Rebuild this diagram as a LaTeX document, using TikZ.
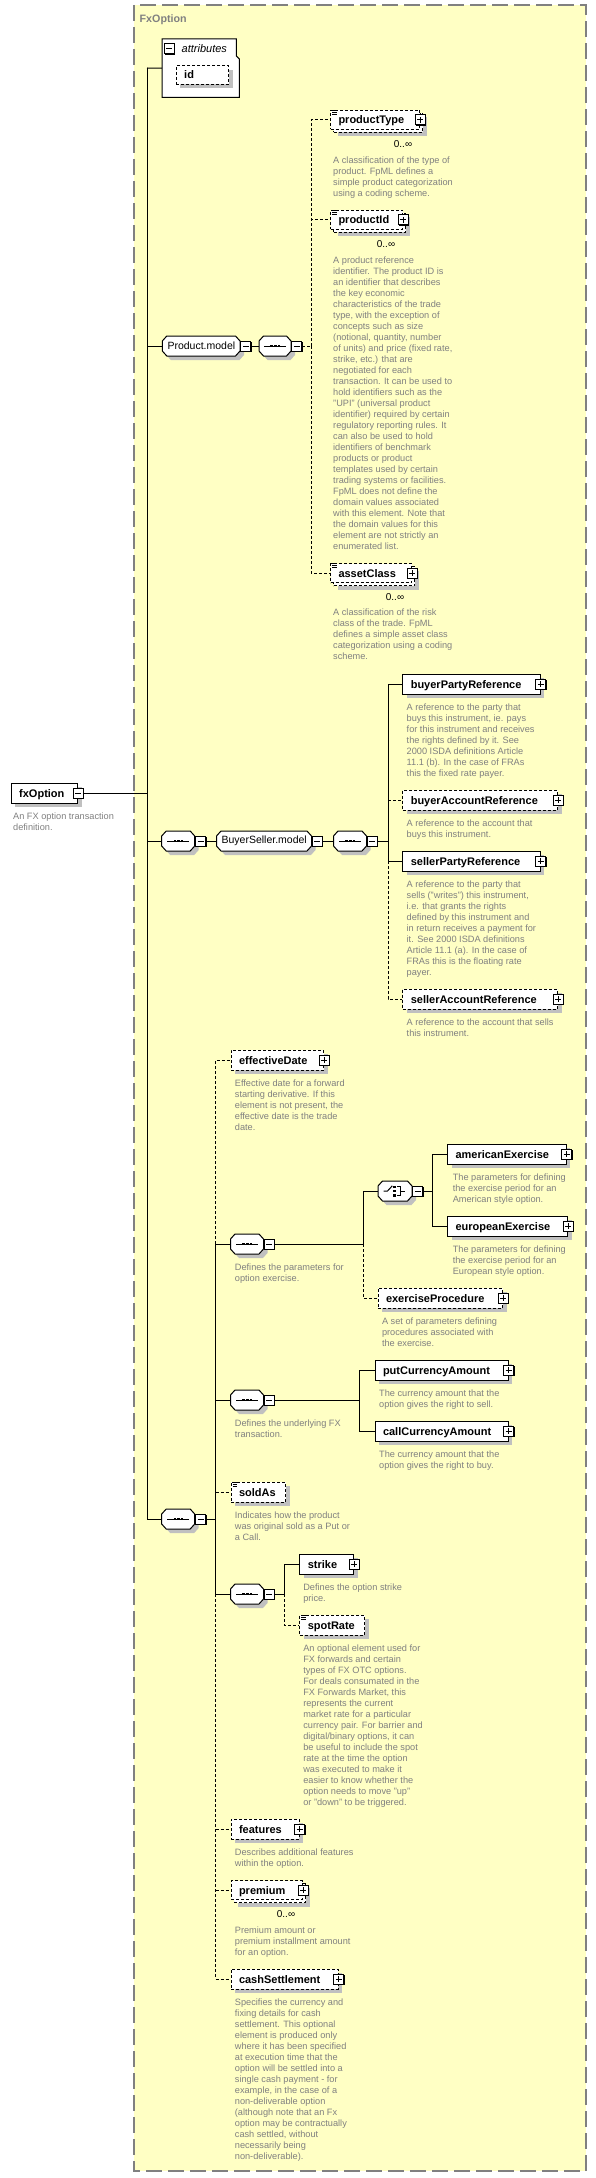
\documentclass[tikz,border=0pt]{standalone}
\usepackage{fontspec}
\setmainfont{Liberation Sans}
\usetikzlibrary{shadows}
\definecolor{bgyellow}{HTML}{FFFFC4}
\definecolor{bordergray}{HTML}{808080}
\definecolor{descgray}{HTML}{808080}
\definecolor{shadowgray}{HTML}{C0C0C0}
\newcommand\xdescf{\fontsize{9.2bp}{11bp}\selectfont}
\newcommand\xnamef{\fontsize{11bp}{13bp}\selectfont\bfseries}
\newcommand\xgrpf{\fontsize{10.5bp}{12bp}\selectfont}
\newcommand\xitf{\fontsize{11bp}{13bp}\selectfont\itshape}
\newcommand\xoccf{\fontsize{10bp}{12bp}\selectfont}
\newcommand\dstrut{\rule{0pt}{8bp}}
\newcommand\nmx[2]{\makebox[#1bp][l]{\hspace*{8bp}#2}}
% group node (octagon): name, left x, width, centre y, text
\newcommand\grpnode[5]{%
 \fill[shadowgray, shift={(4,4)}] ({#2+4.5},{#4-10}) -- ({#2+#3-4.5},{#4-10}) -- ({#2+#3},{#4-5}) -- ({#2+#3},{#4+5}) -- ({#2+#3-4.5},{#4+10}) -- ({#2+4.5},{#4+10}) -- (#2,{#4+5}) -- (#2,{#4-5}) -- cycle;
 \filldraw[fill=white, draw=black, line width=1bp] ({#2+4.5},{#4-10}) -- ({#2+#3-4.5},{#4-10}) -- ({#2+#3},{#4-5}) -- ({#2+#3},{#4+5}) -- ({#2+#3-4.5},{#4+10}) -- ({#2+4.5},{#4+10}) -- (#2,{#4+5}) -- (#2,{#4-5}) -- cycle;
 \node[grptext, minimum width=#3bp] (#1) at (#2,#4) {#5};}
\newcommand\seqsym[1]{\begin{scope}[shift={(#1.center)}]
  \draw[line width=1bp] (-11,0) -- (11,0);
  \foreach \dx in {-3.6,0,3.6} \fill (\dx-1.3,-1.4) rectangle (\dx+1.3,1.4);
\end{scope}}
\newcommand\simpl[1]{\begin{scope}[shift={(#1.north west)}]
  \draw[line width=0.8bp] (2,0.5)--(6.5,0.5) (2,2.5)--(6.5,2.5) (2,4.5)--(6.5,4.5);
\end{scope}}
\tikzset{
 conn/.style={line width=1bp, draw=black},
 odash/.style={dash pattern=on 3bp off 2bp},
 gshadow/.style={drop shadow={shadow xshift=4bp, shadow yshift=-4bp, fill=shadowgray, draw=none, opacity=1}},
 elem/.style={rectangle, draw=black, fill=white, line width=1bp, minimum height=20bp, inner xsep=0pt, inner ysep=0pt, anchor=west, font=\xnamef, text height=8bp, text depth=0pt},
 reqelem/.style={elem, gshadow},
 optelem/.style={elem, gshadow, odash},
 multelem/.style={elem, odash, minimum height=19bp,
   drop shadow={shadow xshift=7bp, shadow yshift=-7bp, fill=shadowgray, draw=none, opacity=1},
   copy shadow={shadow xshift=3bp, shadow yshift=-3bp, draw=black, fill=white, line width=1bp, dash pattern=on 3bp off 2bp}},
 iconbox/.style={rectangle, draw=black, fill=white, line width=1bp, minimum size=10bp, inner sep=0pt,
   drop shadow={shadow xshift=1bp, shadow yshift=-1bp, fill=black, draw=none, opacity=1}},
 plusicon/.style={iconbox, path picture={\draw[line width=1bp] ([xshift=2bp]path picture bounding box.west) -- ([xshift=-2bp]path picture bounding box.east) ([yshift=-2bp]path picture bounding box.north) -- ([yshift=2bp]path picture bounding box.south);}},
 minusicon/.style={iconbox, path picture={\draw[line width=1bp] ([xshift=2bp]path picture bounding box.west) -- ([xshift=-2bp]path picture bounding box.east);}},
 grptext/.style={rectangle, inner sep=0pt, minimum height=20bp, anchor=west, font=\xgrpf},
 desc/.style={anchor=north west, align=left, inner sep=0pt, font=\xdescf, text=descgray},
 occ/.style={font=\xoccf, inner sep=0pt},
}
\begin{document}
\begin{tikzpicture}[x=1bp,y=-1bp]
\useasboundingbox (0,0) rectangle (596,2178);
% container
\draw[draw=bordergray, fill=bgyellow, line width=1.5bp, dash pattern=on 16bp off 6bp] (134,5) rectangle (586,2171);
\node[anchor=base west, font=\fontsize{10.7bp}{12bp}\selectfont\bfseries, text=bordergray, inner sep=0pt] (title) at (139.5,22.8) {FxOption};

% root
\node[reqelem] (fx) at (10.7,793) {\nmx{66.6}{fxOption}};
\node[minusicon] (fxM) at (fx.east) {};
\node[desc] (fxD) at (13,811.3) {\dstrut An FX option transaction\\definition.};

% attributes
\node[inner sep=0pt, minimum width=77bp, minimum height=58bp, anchor=north west] (attr) at (162,39) {};
\draw[line width=1bp, fill=white] (attr.north west) -- ([xshift=-3bp]attr.north east) -- ++(0,17) -- ++(3,3) -- (attr.south east) -- (attr.south west) -- cycle;
\node[minusicon] (attrM) at (169,48.7) {};
\node[anchor=base west, font=\xitf, inner sep=0pt] (attrT) at (181.5,52.8) {attributes};
\node[optelem, minimum height=18.6bp] (id) at (175.7,75) {\nmx{52.6}{id}};

% Product.model
\grpnode{pm}{162.3}{77.7}{346}{Product.model}
\node[minusicon, anchor=west] (pmM) at (pm.east) {};
\grpnode{pmS}{259}{32}{346}{} \seqsym{pmS}
\node[minusicon, anchor=west] (pmSM) at (pmS.east) {};
\coordinate (busA) at (311,346);

\node[multelem] (pt) at (330,120) {\nmx{89}{productType}};
\node[plusicon] (ptP) at (pt.east) {}; \simpl{pt}
\node[occ] (ptO) at (403,144) {0..∞};
\node[desc] (ptD) at (333,155.3) {\dstrut A classification of the type of\\product. FpML defines a\\simple product categorization\\using a coding scheme.};

\node[multelem] (pid) at (330,220) {\nmx{72}{productId}};
\node[plusicon] (pidP) at (pid.east) {}; \simpl{pid}
\node[occ] (pidO) at (386,244) {0..∞};
\node[desc] (pidD) at (333,255.3) {\dstrut A product reference\\identifier. The product ID is\\an identifier that describes\\the key economic\\characteristics of the trade\\type, with the exception of\\concepts such as size\\(notional, quantity, number\\of units) and price (fixed rate,\\strike, etc.) that are\\negotiated for each\\transaction. It can be used to\\hold identifiers such as the\\"UPI" (universal product\\identifier) required by certain\\regulatory reporting rules. It\\can also be used to hold\\identifiers of benchmark\\products or product\\templates used by certain\\trading systems or facilities.\\FpML does not define the\\domain values associated\\with this element. Note that\\the domain values for this\\element are not strictly an\\enumerated list.};

\node[multelem] (ac) at (330,573) {\nmx{81}{assetClass}};
\node[plusicon] (acP) at (ac.east) {}; \simpl{ac}
\node[occ] (acO) at (395,597) {0..∞};
\node[desc] (acD) at (333,607.3) {\dstrut A classification of the risk\\class of the trade. FpML\\defines a simple asset class\\categorization using a coding\\scheme.};

% BuyerSeller.model
\grpnode{sB1}{161.7}{33}{841}{} \seqsym{sB1}
\node[minusicon, anchor=west] (sB1M) at (sB1.east) {};
\grpnode{bsm}{216.5}{95}{841}{BuyerSeller.model}
\node[minusicon, anchor=west] (bsmM) at (bsm.east) {};
\grpnode{sB2}{333.5}{33}{841}{} \seqsym{sB2}
\node[minusicon, anchor=west] (sB2M) at (sB2.east) {};
\coordinate (busB) at (388,841);

\node[reqelem] (bpr) at (402.3,684) {\nmx{137.2}{buyerPartyReference}};
\node[plusicon] (bprP) at (bpr.east) {};
\node[desc] (bprD) at (406.5,702.3) {\dstrut A reference to the party that\\buys this instrument, ie. pays\\for this instrument and receives\\the rights defined by it. See\\2000 ISDA definitions Article\\11.1 (b). In the case of FRAs\\this the fixed rate payer.};

\node[optelem] (bar) at (402.3,800) {\nmx{154.7}{buyerAccountReference}};
\node[plusicon] (barP) at (bar.east) {};
\node[desc] (barD) at (406.5,818.3) {\dstrut A reference to the account that\\buys this instrument.};

\node[reqelem] (spr) at (402.3,861) {\nmx{137.2}{sellerPartyReference}};
\node[plusicon] (sprP) at (spr.east) {};
\node[desc] (sprD) at (406.5,879.3) {\dstrut A reference to the party that\\sells ("writes") this instrument,\\i.e. that grants the rights\\defined by this instrument and\\in return receives a payment for\\it. See 2000 ISDA definitions\\Article 11.1 (a). In the case of\\FRAs this is the floating rate\\payer.};

\node[optelem] (sar) at (402.3,999) {\nmx{154.7}{sellerAccountReference}};
\node[plusicon] (sarP) at (sar.east) {};
\node[desc] (sarD) at (406.5,1017.3) {\dstrut A reference to the account that sells\\this instrument.};

% main sequence
\grpnode{sM}{161.7}{33}{1519}{} \seqsym{sM}
\node[minusicon, anchor=west] (sMM) at (sM.east) {};
\coordinate (busM) at (215.5,1519);

\node[optelem] (ed) at (230.5,1060) {\nmx{92.5}{effectiveDate}};
\node[plusicon] (edP) at (ed.east) {};
\node[desc] (edD) at (234.7,1078.3) {\dstrut Effective date for a forward\\starting derivative. If this\\element is not present, the\\effective date is the trade\\date.};

\grpnode{sEx}{230.5}{33}{1244}{} \seqsym{sEx}
\node[minusicon, anchor=west] (sExM) at (sEx.east) {};
\node[desc] (sExD) at (234.7,1262.3) {\dstrut Defines the parameters for\\option exercise.};
\coordinate (busE) at (363,1244);

\grpnode{ch}{378}{34}{1191}{}
\begin{scope}[shift={(ch.center)}, line width=1bp]
  \draw (-11.7,0) -- (-7.7,0) -- (-2.9,-5.2);
  \foreach \dy in {-4.3,0,4.3} \fill (-1.9,\dy-1.2) rectangle (0.5,\dy+1.2);
  \draw (1.9,-4.8) -- (5.7,-4.8) -- (5.7,4.8) -- (1.9,4.8);
  \draw (5.7,0) -- (9.5,0);
\end{scope}
\node[minusicon, anchor=west] (chM) at (ch.east) {};
\coordinate (busC) at (432.3,1191);

\node[reqelem] (ae) at (447,1154) {\nmx{118.7}{americanExercise}};
\node[plusicon] (aeP) at (ae.east) {};
\node[desc] (aeD) at (452.6,1172.3) {\dstrut The parameters for defining\\the exercise period for an\\American style option.};

\node[reqelem] (ee) at (447,1226) {\nmx{120}{europeanExercise}};
\node[plusicon] (eeP) at (ee.east) {};
\node[desc] (eeD) at (452.6,1244.3) {\dstrut The parameters for defining\\the exercise period for an\\European style option.};

\node[optelem] (ep) at (377.5,1298) {\nmx{124.5}{exerciseProcedure}};
\node[plusicon] (epP) at (ep.east) {};
\node[desc] (epD) at (381.8,1316.3) {\dstrut A set of parameters defining\\procedures associated with\\the exercise.};

\grpnode{sUl}{230.5}{33}{1400}{} \seqsym{sUl}
\node[minusicon, anchor=west] (sUlM) at (sUl.east) {};
\node[desc] (sUlD) at (234.7,1418.3) {\dstrut Defines the underlying FX\\transaction.};
\coordinate (busU) at (359.3,1400);

\node[reqelem] (pca) at (374.5,1370) {\nmx{133}{putCurrencyAmount}};
\node[plusicon] (pcaP) at (pca.east) {};
\node[desc] (pcaD) at (379,1388.3) {\dstrut The currency amount that the\\option gives the right to sell.};

\node[reqelem] (cca) at (374.5,1431) {\nmx{133}{callCurrencyAmount}};
\node[plusicon] (ccaP) at (cca.east) {};
\node[desc] (ccaD) at (379,1449.3) {\dstrut The currency amount that the\\option gives the right to buy.};

\node[optelem] (sa) at (230.5,1492) {\nmx{54.5}{soldAs}}; \simpl{sa}
\node[desc] (saD) at (234.7,1510.3) {\dstrut Indicates how the product\\was original sold as a Put or\\a Call.};

\grpnode{sSt}{230.5}{33}{1594}{} \seqsym{sSt}
\node[minusicon, anchor=west] (sStM) at (sSt.east) {};
\coordinate (busS) at (284.1,1594);

\node[reqelem] (st) at (299.3,1564) {\nmx{53.7}{strike}};
\node[plusicon] (stP) at (st.east) {};
\node[desc] (stD) at (303.1,1582.3) {\dstrut Defines the option strike\\price.};

\node[optelem] (sr) at (299.3,1625) {\nmx{64.7}{spotRate}}; \simpl{sr}
\node[desc] (srD) at (303.1,1643.3) {\dstrut An optional element used for\\FX forwards and certain\\types of FX OTC options.\\For deals consumated in the\\FX Forwards Market, this\\represents the current\\market rate for a particular\\currency pair. For barrier and\\digital/binary options, it can\\be useful to include the spot\\rate at the time the option\\was executed to make it\\easier to know whether the\\option needs to move "up"\\or "down" to be triggered.};

\node[optelem] (fe) at (230.5,1829) {\nmx{68}{features}};
\node[plusicon] (feP) at (fe.east) {};
\node[desc] (feD) at (234.7,1847.3) {\dstrut Describes additional features\\within the option.};

\node[multelem] (pr) at (230.5,1890) {\nmx{71.5}{premium}};
\node[plusicon] (prP) at (pr.east) {};
\node[occ] (prO) at (286,1914) {0..∞};
\node[desc] (prD) at (234.7,1925.3) {\dstrut Premium amount or\\premium installment amount\\for an option.};

\node[optelem] (cs) at (230.5,1979) {\nmx{107}{cashSettlement}};
\node[plusicon] (csP) at (cs.east) {};
\node[desc] (csD) at (234.7,1997.3) {\dstrut Specifies the currency and\\fixing details for cash\\settlement. This optional\\element is produced only\\where it has been specified\\at execution time that the\\option will be settled into a\\single cash payment - for\\example, in the case of a\\non-deliverable option\\(although note that an Fx\\option may be contractually\\cash settled, without\\necessarily being\\non-deliverable).};

% connectors
\coordinate (trunkTop) at (147,68);
\draw[conn] (trunkTop) -- (attr.west);
\draw[conn] (trunkTop) |- (sM.west);
\draw[conn] (trunkTop) |- (pm.west);
\draw[conn] (trunkTop) |- (sB1.west);
\draw[conn] (fxM.east) -- (fxM.east -| trunkTop);
\draw[conn] (pmM.east) -- (pmS.west);
\draw[conn, odash] (pmSM.east) -- (busA);
\draw[conn, odash] (busA) |- (pt.west);
\draw[conn, odash] (busA) |- (pid.west);
\draw[conn, odash] (busA) |- (ac.west);

\draw[conn] (sB1M.east) -- (bsm.west);
\draw[conn] (bsmM.east) -- (sB2.west);
\draw[conn] (sB2M.east) -- (busB);
\draw[conn] (busB) |- (bpr.west);
\draw[conn] (busB) |- (spr.west);
\draw[conn, odash] (bar.west -| busB) -- (bar.west);
\draw[conn, odash] (spr.west -| busB) |- (sar.west);

\draw[conn] (sMM.east) -- (busM);
\draw[conn, odash] (sEx.west -| busM) |- (ed.west);
\draw[conn] (busM) |- (sEx.west);
\draw[conn] (busM) |- (sUl.west);
\draw[conn] (busM) |- (sSt.west);
\draw[conn, odash] (sa.west -| busM) -- (sa.west);
\draw[conn, odash] (sSt.west -| busM) |- (cs.west);
\draw[conn, odash] (fe.west -| busM) -- (fe.west);
\draw[conn, odash] (pr.west -| busM) -- (pr.west);

\draw[conn] (sExM.east) -- (busE);
\draw[conn] (busE) |- (ch.west);
\draw[conn, odash] (busE) |- (ep.west);
\draw[conn] (chM.east) -- (busC);
\draw[conn] (busC) |- (ae.west);
\draw[conn] (busC) |- (ee.west);
\draw[conn] (sUlM.east) -- (busU);
\draw[conn] (busU) |- (pca.west);
\draw[conn] (busU) |- (cca.west);
\draw[conn] (sStM.east) -- (busS);
\draw[conn] (busS) |- (st.west);
\draw[conn, odash] (busS) |- (sr.west);
\end{tikzpicture}
\end{document}
